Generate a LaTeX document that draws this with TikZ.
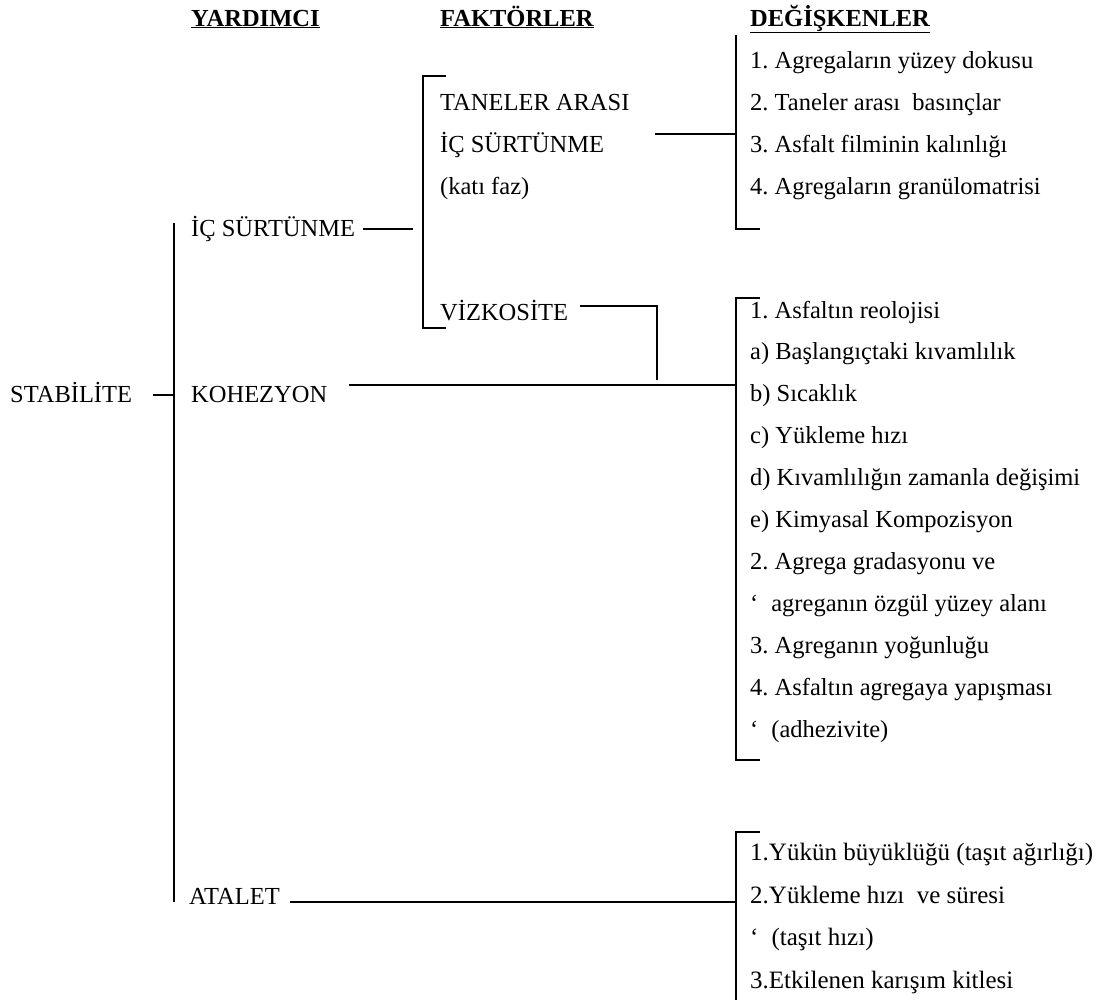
\documentclass[tikz,border=0pt]{standalone}
\usepackage{fontspec}
\setmainfont{Liberation Serif}
\usetikzlibrary{calc}
\begin{document}
\frenchspacing
\begin{tikzpicture}[x=1pt,y=-1pt]
\tikzset{
  txt/.style={anchor=base west, inner sep=0pt, font=\fontsize{24.5}{28}\selectfont},
  txtb/.style={anchor=base west, inner sep=0pt, font=\fontsize{25}{28}\selectfont},
  hdr/.style={anchor=base west, inner sep=0pt, font=\fontsize{24.5}{28}\selectfont\bfseries},
  ln/.style={line width=1.6pt},
}
\useasboundingbox (0,0) rectangle (1099,999);
% headers
\node[hdr] (h1) at (191,26) {\underline{YARDIMCI}};
\node[hdr] (h2) at (440,26) {\underline{FAKTÖRLER}};
\node[hdr] (h3) at (750,26) {\underline{DEĞİŞKENLER}};
% left column
\node[txt] (stab) at (10,402) {STABİLİTE};
\node[txt] (icL) at (191,236) {İÇ SÜRTÜNME};
\node[txt] (koh) at (191,402) {KOHEZYON};
\node[txt] (atal) at (189,904) {ATALET};
% middle column
\node[txt] (tan1) at (440,110) {TANELER ARASI};
\node[txt] (tan2) at (440,152) {İÇ SÜRTÜNME};
\node[txt] (tan3) at (440,194) {(katı faz)};
\node[txt] (viz) at (440,320) {VİZKOSİTE};
% right lists
\foreach \t [count=\i] in {{1. Agregaların yüzey dokusu},{2. Taneler arası\ \ basınçlar},{3. Asfalt filminin kalınlığı},{4. Agregaların granülomatrisi}}
  {\node[txt] (p\i) at (750,{26+42*\i}) {\t};}
\foreach \t [count=\i] in {{1. Asfaltın reolojisi},{a) Başlangıçtaki kıvamlılık},{b) Sıcaklık},{c) Yükleme hızı},{d) Kıvamlılığın zamanla değişimi},{e) Kimyasal Kompozisyon},{2. Agrega gradasyonu ve},{‘\hspace{13pt}agreganın özgül yüzey alanı},{3. Agreganın yoğunluğu},{4. Asfaltın agregaya yapışması},{‘\hspace{13pt}(adhezivite)}}
  {\node[txt] (q\i) at (750,{276.1+41.9*\i}) {\t};}
\foreach \t [count=\i] in {{1.Yükün büyüklüğü (taşıt ağırlığı)},{2.Yükleme hızı\ \ ve süresi},{‘\hspace{13pt}(taşıt hızı)},{3.Etkilenen karışım kitlesi}}
  {\node[txtb] (r\i) at (750,{818+42.5*\i}) {\t};}
% bracket coordinates
\coordinate (Lt) at (174,223);
\coordinate (Lb) at (174,902);
\coordinate (Mt) at (423,76);
\coordinate (Mb) at (423,328);
\coordinate (R1t) at (736,35);
\coordinate (R1b) at (736,229);
\coordinate (R2t) at (736,298);
\coordinate (R2b) at (736,760);
\coordinate (R3t) at (736,832);
\coordinate (R3b) at (736,1000);
\coordinate (vz) at (657,306);
% brackets
\draw[ln] (Lt) -- (Lb);
\draw[ln] ($(Mt)+(23,0)$) -- (Mt) -- (Mb) -- ($(Mb)+(23,0)$);
\draw[ln] (R1t) -- (R1b) -- ($(R1b)+(24,0)$);
\draw[ln] ($(R2t)+(24,0)$) -- (R2t) -- (R2b) -- ($(R2b)+(24,0)$);
\draw[ln] ($(R3t)+(24,0)$) -- (R3t) -- (R3b);
% connectors
\draw[ln] ($(stab.base east)+(21,-7)$) -- ($(Lt |- stab.base)+(0,-7)$);
\draw[ln] ($(icL.base east)+(8,-7)$) -- ($(Mt |- icL.base)+(-10,-7)$);
\draw[ln] ($(tan2.base west)+(215,-18)$) -- ($(R1t |- tan2.base)+(0,-18)$);
\draw[ln] ($(viz.base east)+(12,-14)$) -- (vz) -- ($(vz |- koh.base)+(0,-22)$);
\draw[ln] ($(koh.base east)+(22,-17)$) -- ($(R2t |- koh.base)+(0,-17)$);
\draw[ln] ($(atal.base east)+(10,-2)$) -- ($(R3t |- atal.base)+(0,-2)$);
\end{tikzpicture}
\end{document}
